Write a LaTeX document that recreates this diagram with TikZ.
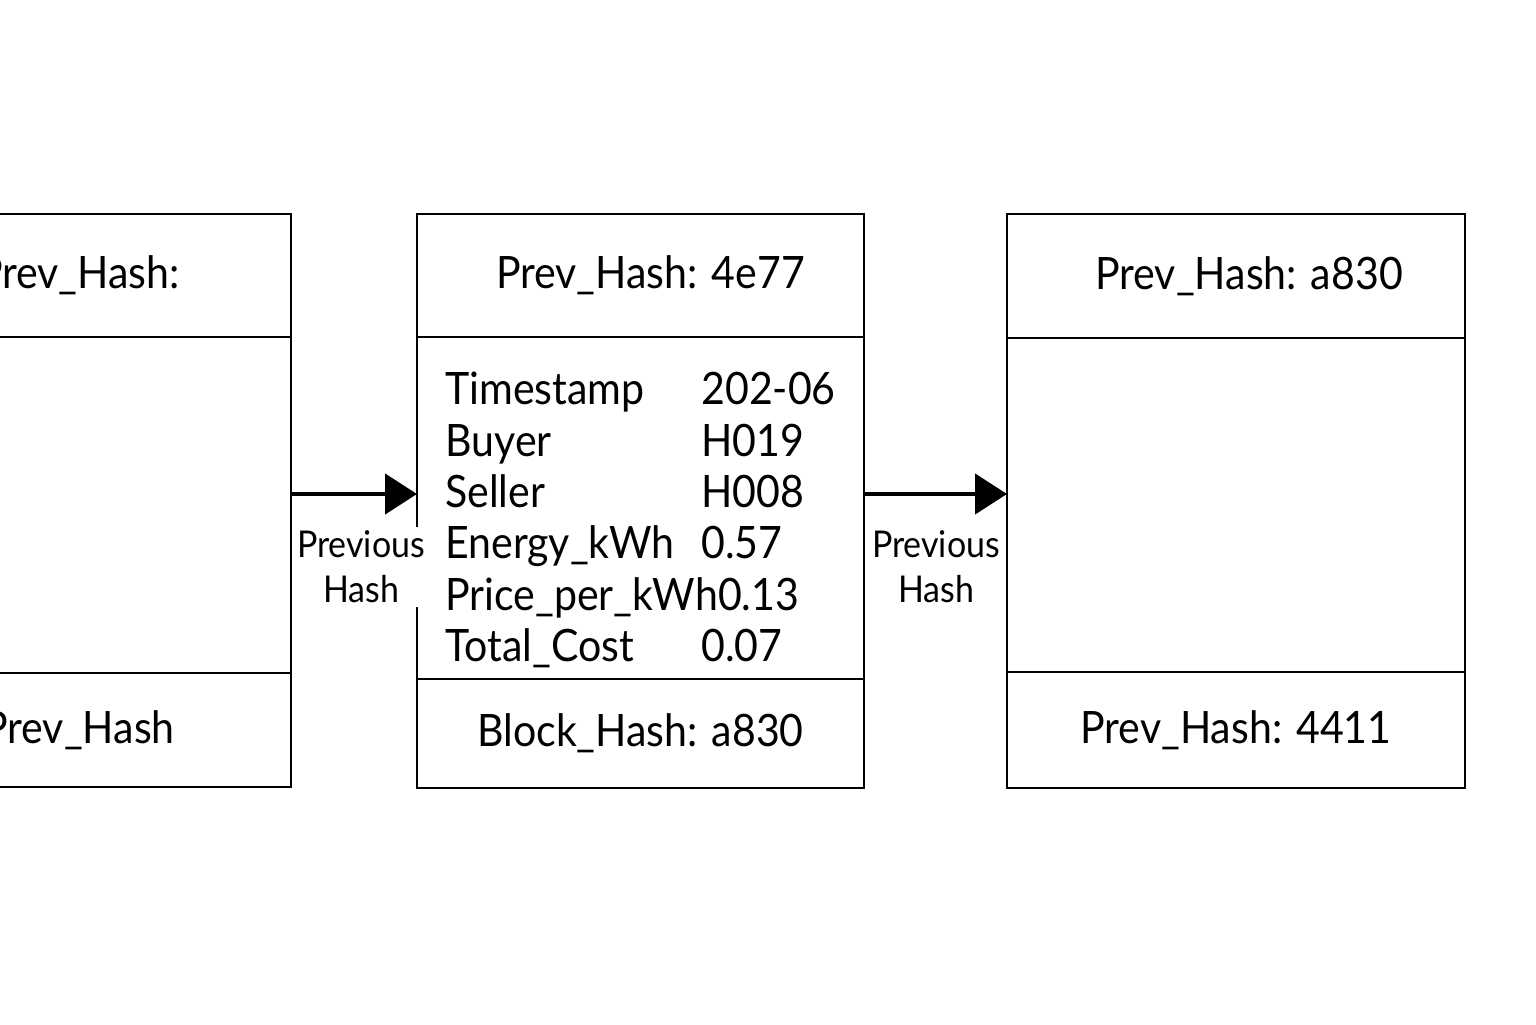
\documentclass[tikz,border=0pt]{standalone}
\usepackage{fontspec}
\setmainfont{Lato}[FakeStretch=0.92]
\usetikzlibrary{positioning,arrows.meta}

\begin{document}
\begin{tikzpicture}[
    node distance=0pt,
    >={Triangle[length=3.2mm,width=4mm]},
    cell/.style={draw, line width=0.7pt, outer sep=0pt, inner sep=0pt, align=center, font=\fontsize{12.7}{15}\selectfont},
    link/.style={->, line width=1.3pt},
    lbl/.style={fill=white, inner sep=1pt, align=center, font=\fontsize{10.5}{12.8}\selectfont}
  ]
    \useasboundingbox (0,0) rectangle (15.36,10.24);
    \clip (0,0) rectangle (15.36,10.24);
    % Left block (cut off)
    \node[cell, minimum width=4.24cm, minimum height=1.23cm] (ltop) at (0.79,7.485) {Prev\_Hash:};
    \node[cell, minimum width=4.24cm, minimum height=3.36cm, below=of ltop] (lmid) {};
    \node[cell, minimum width=4.24cm, minimum height=1.14cm, below=of lmid] (lbot) {Prev\_Hash};
    % Middle block
    \node[cell, minimum width=4.47cm, minimum height=1.23cm] (ctop) at (6.405,7.485) {\hspace*{0.2cm}Prev\_Hash: 4e77};
    \node[cell, minimum width=4.47cm, minimum height=3.42cm, below=of ctop] (cmid) {};
    \node[cell, minimum width=4.47cm, minimum height=1.09cm, below=of cmid] (cbot) {Block\_Hash: a830};
    \node[font=\fontsize{12.7}{14.6}\selectfont, inner sep=0pt] (ctab) at ([yshift=-0.15cm]cmid.center) {%
      \begin{tabular}{@{}p{2.56cm}@{}l@{}}
        Timestamp & 202-06\\
        Buyer & H019\\
        Seller & H008\\
        Energy\_kWh & 0.57\\
        \multicolumn{2}{@{}l@{}}{Price\_per\_kWh0.13}\\
        Total\_Cost & 0.07
      \end{tabular}};
    % Right block
    \node[cell, minimum width=4.58cm, minimum height=1.24cm] (rtop) at (12.36,7.48) {\hspace*{0.26cm}Prev\_Hash: a830};
    \node[cell, minimum width=4.58cm, minimum height=3.34cm, below=of rtop] (rmid) {};
    \node[cell, minimum width=4.58cm, minimum height=1.16cm, below=of rmid] (rbot) {Prev\_Hash: 4411};
    % Links
    \coordinate (ay) at (0,5.30);
    \node[lbl] (l1) at (3.61,4.57) {Previous\\Hash};
    \node[lbl] (l2) at (9.36,4.57) {Previous\\Hash};
    \draw[link] (lmid.east |- ay) -- (cmid.west |- ay);
    \draw[link] (cmid.east |- ay) -- (rmid.west |- ay);
  \end{tikzpicture}
\end{document}
